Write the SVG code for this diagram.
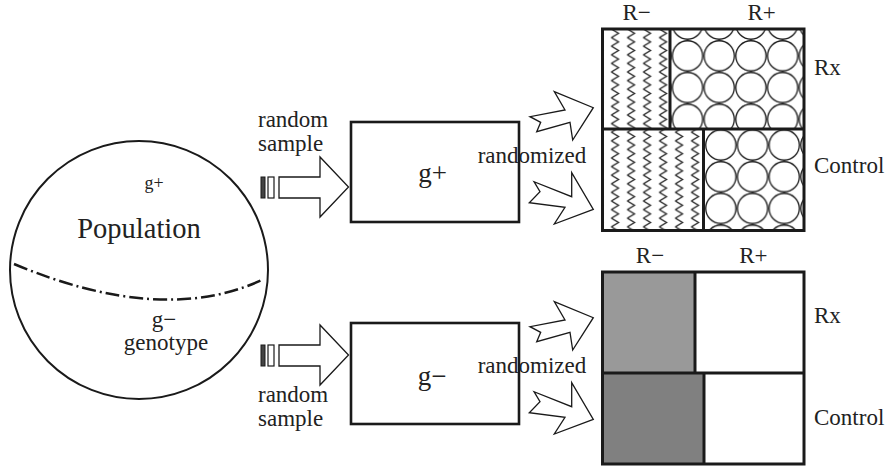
<svg xmlns="http://www.w3.org/2000/svg" width="891" height="476" viewBox="0 0 891 476" font-family="'Liberation Serif', 'Times New Roman', 'DejaVu Serif', serif">
  <style>
    text { font-family: "Liberation Serif", "Times New Roman", "DejaVu Serif", serif; fill: #222; }
    .lbl { font-size: 23px; }
    .mid { text-anchor: middle; }
    .box { fill: #fff; stroke: #1a1a1a; stroke-width: 2.6; }
    .grid { fill: none; stroke: #1a1a1a; stroke-width: 3; }
    .fat { fill: #fff; stroke: #1a1a1a; stroke-width: 1.3; stroke-linejoin: miter; }
  </style>
  <defs>
    <!-- vertical zigzag hatching -->
    <pattern id="zig" x="610.5" y="29" width="16" height="8.6" patternUnits="userSpaceOnUse">
      <path d="M0.8,0 L8,4.3 L0.8,8.6" fill="none" stroke="#1a1a1a" stroke-width="1.3"/>
    </pattern>
    <!-- packed circles -->
    <pattern id="circTop" x="671.7" y="40" width="31.7" height="31.7" patternUnits="userSpaceOnUse">
      <circle cx="15.85" cy="15.85" r="15.1" fill="none" stroke="#1a1a1a" stroke-width="1.3"/>
    </pattern>
    <pattern id="circBot" x="705" y="129.2" width="31.7" height="31.7" patternUnits="userSpaceOnUse">
      <circle cx="15.85" cy="15.85" r="15.1" fill="none" stroke="#1a1a1a" stroke-width="1.3"/>
    </pattern>
    <!-- notched arrow pointing up-right -->
    <path id="arrUp" d="M554.3,91.7 L593.3,107.7 L572.7,140 L570,122.3 L536.7,131.7 L540.7,122.3 L530,116.7 L565,110 Z"/>
    <!-- notched arrow pointing down-right -->
    <path id="arrDown" d="M534,181.7 L540,191.7 L529.3,202.7 L565,207.3 L554.3,224 L593.3,209.3 L571.7,172.7 L571.7,196.7 Z"/>
    <!-- sampling arrow with bars -->
    <g id="sampleArrow">
      <rect x="261" y="177" width="4" height="21" fill="#444" stroke="#1a1a1a" stroke-width="1"/>
      <rect x="268" y="177" width="6" height="21" fill="#fff" stroke="#1a1a1a" stroke-width="1.2"/>
      <path class="fat" d="M279,177 L320,177 L320,157 L348.5,187 L320,217 L320,198 L279,198 Z"/>
    </g>
  </defs>

  <!-- population -->
  <g id="population">
    <circle cx="139" cy="270" r="129" fill="#fff" stroke="#1a1a1a" stroke-width="2"/>
    <path d="M14,264 Q162,326 262,280" fill="none" stroke="#1a1a1a" stroke-width="2.5" stroke-dasharray="14 4 2 4"/>
    <text x="154" y="189" class="mid" font-size="18">g+</text>
    <text x="139" y="238" class="mid" font-size="28.5">Population</text>
    <text x="164" y="327" class="mid lbl">g−</text>
    <text x="166" y="350" class="mid lbl">genotype</text>
  </g>

  <!-- sample boxes -->
  <g id="box-gplus">
    <rect x="351" y="122" width="168" height="100" class="box"/>
    <text x="432.5" y="181.5" class="mid" font-size="27">g+</text>
  </g>
  <g id="box-gminus">
    <rect x="351" y="323" width="168" height="101" class="box"/>
    <text x="432" y="385" class="mid" font-size="27">g−</text>
  </g>

  <!-- top outcome grid -->
  <g id="grid-gplus">
    <rect x="602.5" y="29" width="67.5" height="100" fill="url(#zig)"/>
    <rect x="602.5" y="129" width="101" height="102" fill="url(#zig)"/>
    <rect x="670" y="29" width="134" height="100" fill="url(#circTop)"/>
    <rect x="703.5" y="129" width="100.5" height="102" fill="url(#circBot)"/>
    <rect x="602.5" y="29" width="201.5" height="201.5" class="grid"/>
    <line x1="602.5" y1="129" x2="804" y2="129" class="grid"/>
    <line x1="670" y1="29" x2="670" y2="129" class="grid"/>
    <line x1="703.5" y1="129" x2="703.5" y2="230.5" class="grid"/>
    <text x="636.7" y="20" class="mid lbl">R−</text>
    <text x="761.7" y="20" class="mid lbl">R+</text>
    <text x="814" y="75" class="lbl">Rx</text>
    <text x="814" y="173" class="lbl">Control</text>
  </g>

  <!-- bottom outcome grid -->
  <g id="grid-gminus">
    <rect x="602.5" y="272" width="92.5" height="101" fill="#999999"/>
    <rect x="602.5" y="373" width="101.5" height="91" fill="#808080"/>
    <rect x="602.5" y="272" width="201.5" height="192" class="grid"/>
    <line x1="602.5" y1="373" x2="804" y2="373" class="grid"/>
    <line x1="695" y1="272" x2="695" y2="373" class="grid"/>
    <line x1="704" y1="373" x2="704" y2="464" class="grid"/>
    <text x="650" y="263" class="mid lbl">R−</text>
    <text x="753.3" y="263" class="mid lbl">R+</text>
    <text x="814" y="323" class="lbl">Rx</text>
    <text x="814" y="425" class="lbl">Control</text>
  </g>

  <!-- connectors -->
  <g id="connectors">
    <use href="#sampleArrow"/>
    <use href="#sampleArrow" transform="translate(0,168)"/>
    <use href="#arrUp" class="fat"/>
    <use href="#arrDown" class="fat"/>
    <use href="#arrUp" class="fat" transform="translate(0,210)"/>
    <use href="#arrDown" class="fat" transform="translate(0,210)"/>
    <text x="258" y="127" class="lbl">random</text>
    <text x="258" y="151" class="lbl">sample</text>
    <text x="258" y="402" class="lbl">random</text>
    <text x="258" y="426" class="lbl">sample</text>
    <text x="477.7" y="163.3" class="lbl">randomized</text>
    <text x="477.7" y="373.3" class="lbl">randomized</text>
  </g>
</svg>
